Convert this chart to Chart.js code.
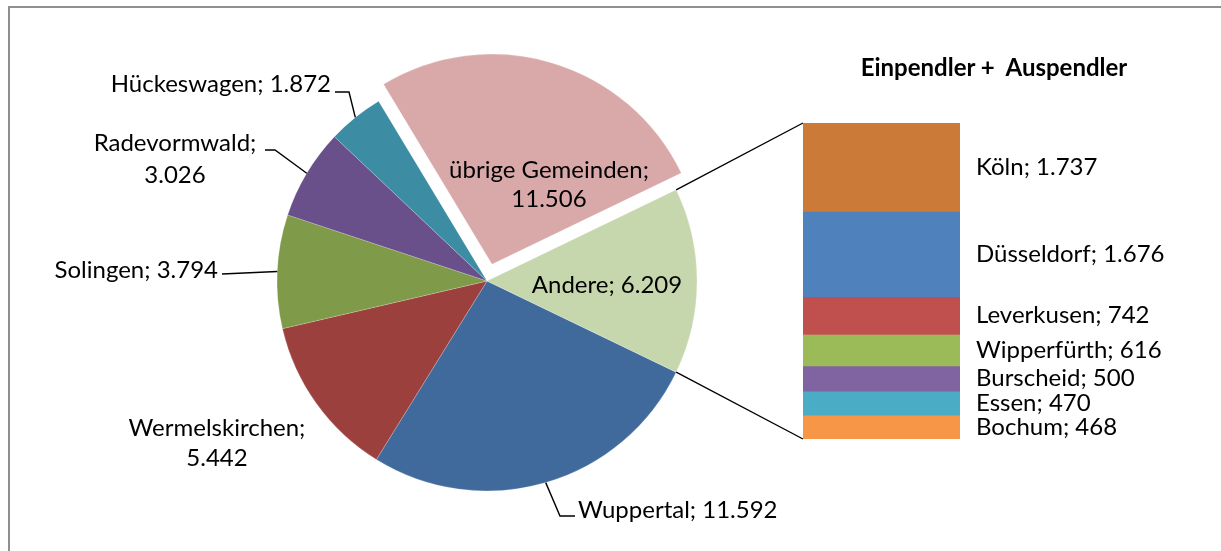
<!DOCTYPE html>
<html>
<head>
<meta charset="utf-8">
<script src="https://cdn.jsdelivr.net/npm/chart.js@4.4.1/dist/chart.umd.min.js"></script>
<style>
  body { margin: 0; background: #fff; }
  #wrap { position: relative; width: 1221px; height: 551px; overflow: hidden; font-family: Lato, sans-serif; }
  #frame { position: absolute; left: 8px; top: 6px; width: 1300px; height: 700px; border: 2px solid #8f8f8f; }
  #pie { position: absolute; left: 0; top: 0; }
  #bar { position: absolute; left: 790px; top: 100px; }
  #title { position: absolute; left: 794px; top: 52px; width: 400px; text-align: center; font-weight: bold; font-size: 24px; color: #000; }
</style>
</head>
<body>
<div id="wrap">
  <div id="frame"></div>
  <canvas id="pie" width="1221" height="551"></canvas>
  <div id="title">Einpendler +&nbsp; Auspendler</div>
  <canvas id="bar" width="420" height="360"></canvas>
</div>
<script>
// pie slices
var pieLabels = ['Wuppertal', 'Wermelskirchen', 'Solingen', 'Radevormwald', 'Hückeswagen', 'übrige Gemeinden', 'Andere'];
var pieValues = [11592, 5442, 3794, 3026, 1872, 11506, 6209];
var pieColors = ['#416a9c', '#9c403e', '#7f9a48', '#69508a', '#3c8ca3', '#d9a9a9', '#c6d6ad'];

// "Andere" broken down in the bar
var barLabels = ['Köln', 'Düsseldorf', 'Leverkusen', 'Wipperfürth', 'Burscheid', 'Essen', 'Bochum'];
var barValues = [1737, 1676, 742, 616, 500, 470, 468];
var barColors = ['#cc7a38', '#4f81bd', '#c0504d', '#9bbb59', '#8064a2', '#4bacc6', '#f79646'];

var explodeIndex = 5;
var otherIndex = 6;
var labelFont = '24px Lato';

// label placement relative to pie centre (px)
var pieLabelPos = [
  { dx: 91, dy: [229], align: 'left', leader: [[73, 235], [88, 235]] },
  { dx: -270, dy: [147, 177], align: 'center', split: true },
  { dx: -269, dy: [-11], align: 'right', leader: [[-265, -7]] },
  { dx: -312, dy: [-138, -106], align: 'center', split: true, leader: [[-212, -131], [-222, -131]] },
  { dx: -156, dy: [-197], align: 'right', leader: [[-138, -189], [-152, -189]] },
  { dx: 62, dy: [-111, -82], align: 'center', split: true },
  { dx: 120, dy: [4], align: 'center' }
];

function fmt(v) {
  return String(v).replace(/\B(?=(\d{3})+(?!\d))/g, '.');
}

var pieTotal = pieValues.reduce(function(a, b) { return a + b; }, 0);
var barTotal = barValues.reduce(function(a, b) { return a + b; }, 0);

var barLabelPlugin = {
  id: 'barLabels',
  afterDraw: function(chart) {
    var ctx = chart.ctx;
    ctx.save();
    ctx.font = labelFont;
    ctx.fillStyle = '#000';
    ctx.textAlign = 'left';
    ctx.textBaseline = 'middle';
    chart.data.datasets.forEach(function(ds, i) {
      var el = chart.getDatasetMeta(i).data[0];
      ctx.fillText(barLabels[i] + '; ' + fmt(barValues[i]), el.x + el.width / 2 + 16, (el.y + el.base) / 2);
    });
    ctx.restore();
  }
};

var barChart = new Chart(document.getElementById('bar'), {
  type: 'bar',
  data: {
    labels: [''],
    datasets: barLabels.map(function(c, i) {
      return { label: c, data: [barValues[i]], backgroundColor: barColors[i], borderWidth: 0,
               barPercentage: 1, categoryPercentage: 1 };
    })
  },
  options: {
    responsive: false,
    animation: false,
    events: [],
    layout: { padding: { left: 13, right: 250, top: 23, bottom: 21 } },
    plugins: { legend: { display: false }, tooltip: { enabled: false } },
    scales: {
      x: { stacked: true, display: false },
      y: { stacked: true, display: false, reverse: true, min: 0, max: barTotal }
    }
  },
  plugins: [barLabelPlugin]
});

var pieLabelPlugin = {
  id: 'pieLabels',
  afterDraw: function(chart) {
    var ctx = chart.ctx;
    var meta = chart.getDatasetMeta(0);
    var cx = meta.data[0].x, cy = meta.data[0].y;
    ctx.save();
    ctx.strokeStyle = '#000';
    ctx.lineWidth = 1.4;

    // connectors from "Andere" to the bar
    var arc = meta.data[otherIndex];
    var R = arc.outerRadius;
    var bc = barChart.canvas;
    var first = barChart.getDatasetMeta(0).data[0];
    var last = barChart.getDatasetMeta(barLabels.length - 1).data[0];
    var bx = bc.offsetLeft + first.x - first.width / 2;
    var btop = bc.offsetTop + Math.min(first.y, first.base);
    var bbot = bc.offsetTop + Math.max(last.y, last.base);
    ctx.beginPath();
    ctx.moveTo(cx + Math.cos(arc.startAngle) * R, cy + Math.sin(arc.startAngle) * R);
    ctx.lineTo(bx, btop);
    ctx.moveTo(cx + Math.cos(arc.endAngle) * R, cy + Math.sin(arc.endAngle) * R);
    ctx.lineTo(bx, bbot);
    ctx.stroke();

    ctx.font = labelFont;
    ctx.fillStyle = '#000';
    ctx.textBaseline = 'middle';
    meta.data.forEach(function(a, i) {
      var p = pieLabelPos[i];
      if (p.leader) {
        var mid = (a.startAngle + a.endAngle) / 2;
        ctx.beginPath();
        ctx.moveTo(cx + Math.cos(mid) * a.outerRadius, cy + Math.sin(mid) * a.outerRadius);
        p.leader.forEach(function(pt) { ctx.lineTo(cx + pt[0], cy + pt[1]); });
        ctx.stroke();
      }
      var lines = p.split ? [pieLabels[i] + ';', fmt(pieValues[i])] : [pieLabels[i] + '; ' + fmt(pieValues[i])];
      ctx.textAlign = p.align;
      lines.forEach(function(t, k) { ctx.fillText(t, cx + p.dx, cy + p.dy[k]); });
    });
    ctx.restore();
  }
};

new Chart(document.getElementById('pie'), {
  type: 'pie',
  data: {
    labels: pieLabels,
    datasets: [{
      data: pieValues,
      backgroundColor: pieColors,
      borderWidth: 0.5,
      borderColor: 'rgba(255,255,255,0.4)',
      offset: pieValues.map(function(v, i) { return i === explodeIndex ? 70 : 0; })
    }]
  },
  options: {
    responsive: false,
    animation: false,
    events: [],
    rotation: 90 + pieValues[otherIndex] / pieTotal * 180,
    radius: 210,
    layout: { padding: { left: 0, right: 247, top: 11, bottom: 0 } },
    plugins: { legend: { display: false }, tooltip: { enabled: false } }
  },
  plugins: [pieLabelPlugin]
});
</script>
</body>
</html>
